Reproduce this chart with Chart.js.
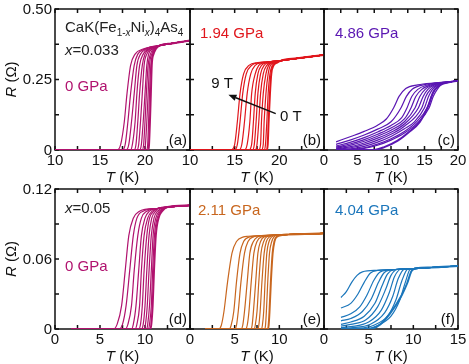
<!DOCTYPE html>
<html><head><meta charset="utf-8">
<script src="https://cdn.jsdelivr.net/npm/chart.js@4"></script>
<style>
html,body{margin:0;padding:0;background:#fff;width:469px;height:364px;overflow:hidden}
#wrap{position:relative;width:469px;height:364px;background:#fff}
canvas{position:absolute;left:0;top:0}
</style></head>
<body><div id="wrap"></div>
<script>
// ---------------- DATA ----------------
// Tick values and labels
const xTicksAB = [10, 12.5, 15, 17.5, 20, 22.5, 25];
const xLabelsAB = [10, 15, 20];
const xTicksC = [0, 2.5, 5, 7.5, 10, 12.5, 15, 17.5, 20];
const xLabelsC = [0, 5, 10, 15, 20];
const xTicksDEF = [0, 2.5, 5, 7.5, 10, 12.5, 15];
const xLabelsDE = [0, 5, 10];
const xLabelsF = [0, 5, 10, 15];
const yTicksTop = [0, 0.125, 0.25, 0.375, 0.5];
const yLabelsTop = [[0, '0'], [0.25, '0.25'], [0.5, '0.50']];
const yTicksBot = [0, 0.03, 0.06, 0.09, 0.12];
const yLabelsBot = [[0, '0'], [0.06, '0.06'], [0.12, '0.12']];

// Panel (a): x=0.033, 0 GPa. T (K) where each field curve crosses the R levels (9 T ... 0 T)
const startA = 10;
const rLevelsA = [0, 0.02, 0.1, 0.2, 0.3, 0.34, 0.358];
const tCurvesA = [
  [16.9, 17.3, 17.7, 18.0, 18.4, 18.9, 19.8],
  [17.5, 17.8, 18.1, 18.4, 18.8, 19.2, 20.0],
  [17.9, 18.2, 18.5, 18.8, 19.1, 19.5, 20.2],
  [18.4, 18.6, 18.9, 19.1, 19.4, 19.8, 20.4],
  [18.8, 19.0, 19.2, 19.4, 19.7, 20.0, 20.5],
  [19.1, 19.3, 19.5, 19.7, 19.9, 20.2, 20.6],
  [19.4, 19.6, 19.8, 20.0, 20.2, 20.4, 20.8],
  [19.7, 19.85, 20.0, 20.15, 20.35, 20.6, 20.9],
  [19.95, 20.05, 20.2, 20.35, 20.5, 20.75, 21.0],
  [20.2, 20.3, 20.4, 20.5, 20.65, 20.85, 21.1],
  [20.4, 20.45, 20.55, 20.65, 20.75, 20.95, 21.2]
];
const normalA = [[19.6, 0.36], [20.5, 0.364], [21.6, 0.37], [23, 0.378], [25, 0.388]];

// Panel (b): 1.94 GPa
const startB = 10;
const rLevelsB = [0, 0.02, 0.1, 0.2, 0.27, 0.3, 0.31];
const tCurvesB = [
  [14.6, 15.0, 15.3, 15.6, 16.0, 16.6, 17.6],
  [15.0, 15.3, 15.6, 15.9, 16.3, 16.9, 17.8],
  [15.5, 15.8, 16.1, 16.4, 16.8, 17.3, 18.1],
  [16.1, 16.4, 16.7, 16.9, 17.3, 17.7, 18.4],
  [16.6, 16.9, 17.1, 17.3, 17.6, 18.0, 18.7],
  [17.0, 17.2, 17.4, 17.6, 17.9, 18.3, 18.9],
  [17.3, 17.5, 17.7, 17.9, 18.2, 18.6, 19.1],
  [17.7, 17.9, 18.0, 18.2, 18.5, 18.8, 19.3],
  [18.0, 18.2, 18.3, 18.5, 18.75, 19.0, 19.5],
  [18.3, 18.45, 18.6, 18.75, 18.95, 19.2, 19.6],
  [18.6, 18.7, 18.8, 18.95, 19.1, 19.35, 19.75]
];
const normalB = [[18.5, 0.312], [19.3, 0.314], [20.2, 0.317], [22, 0.325], [25, 0.337]];
const arrowB = [[19.6, 0.129], [14.3, 0.196]];
const arrowTextB = [['9 T', 13.6, 0.236], ['0 T', 21.3, 0.116]];

// Panel (c): 4.86 GPa, [T, R] points per field curve
const curvesC = [
  [[1.8,0.029],[4,0.048],[6,0.066],[8,0.088],[9.3,0.11],[10.4,0.15],[11.2,0.19],[12.2,0.218],[14,0.231],[16.5,0.238]],
  [[1.8,0.02],[4,0.036],[6,0.053],[8,0.074],[10,0.1],[11.5,0.15],[12.3,0.19],[13.2,0.216],[15,0.232],[17,0.238]],
  [[1.8,0.014],[4,0.028],[6,0.044],[8,0.064],[10,0.087],[11.6,0.115],[12.4,0.15],[13.1,0.19],[14,0.215],[15.5,0.231],[17.2,0.238]],
  [[1.8,0.01],[4,0.022],[6,0.037],[8,0.056],[10,0.078],[12,0.11],[13.0,0.15],[13.7,0.19],[14.6,0.215],[16,0.231],[17.5,0.238]],
  [[1.8,0.007],[4,0.017],[6,0.031],[8,0.049],[10,0.07],[12,0.1],[13.6,0.15],[14.3,0.19],[15.1,0.215],[16.3,0.231],[17.7,0.238]],
  [[1.8,0.004],[4,0.012],[6,0.025],[8,0.042],[10,0.063],[12,0.092],[14.1,0.15],[14.8,0.19],[15.5,0.215],[16.5,0.231],[17.8,0.238]],
  [[1.8,0.002],[4,0.008],[6,0.019],[8,0.035],[10,0.056],[12,0.084],[14.6,0.15],[15.2,0.19],[15.9,0.215],[16.8,0.231],[18,0.239]],
  [[1.8,0.001],[4,0.004],[6,0.013],[8,0.028],[10,0.048],[12,0.075],[13.5,0.1],[15.0,0.15],[15.6,0.19],[16.2,0.215],[17,0.231],[18.2,0.239]],
  [[1.8,0],[4,0.002],[6,0.008],[8,0.021],[10,0.04],[12,0.066],[13.8,0.1],[15.4,0.15],[16.0,0.19],[16.6,0.215],[17.3,0.232],[18.4,0.24]],
  [[1.8,0],[4,0.001],[6,0.006],[8,0.017],[10,0.035],[12,0.06],[14,0.097],[15.7,0.15],[16.3,0.19],[16.9,0.215],[17.5,0.232],[18.5,0.24]],
  [[1.8,0],[7.4,0],[9,0.01],[11,0.033],[12.6,0.062],[14.3,0.1],[15.6,0.158],[16.3,0.205],[17.0,0.225],[17.7,0.235],[18.6,0.24]]
];
const normalC = [[19.2, 0.243], [20, 0.245]];

// Panel (d): x=0.05, 0 GPa
const startD = 1.8;
const rLevelsD = [0, 0.004, 0.02, 0.05, 0.08, 0.095, 0.101];
const tCurvesD = [
  [6.5, 6.9, 7.4, 7.8, 8.2, 8.7, 9.4],
  [7.1, 7.5, 7.9, 8.3, 8.7, 9.1, 9.8],
  [7.8, 8.1, 8.5, 8.8, 9.2, 9.6, 10.2],
  [8.5, 8.7, 9.0, 9.3, 9.6, 10.0, 10.5],
  [8.9, 9.1, 9.4, 9.6, 9.9, 10.3, 10.8],
  [9.3, 9.5, 9.7, 9.9, 10.2, 10.5, 11.0],
  [9.6, 9.8, 10.0, 10.2, 10.45, 10.75, 11.2],
  [9.9, 10.05, 10.25, 10.45, 10.7, 11.0, 11.4],
  [10.2, 10.3, 10.5, 10.7, 10.9, 11.2, 11.6],
  [10.4, 10.5, 10.7, 10.85, 11.05, 11.35, 11.75],
  [10.6, 10.7, 10.85, 11.0, 11.2, 11.5, 11.9]
];
const normalD = [[10, 0.1025], [11.5, 0.1035], [12.5, 0.1045], [15, 0.106]];

// Panel (e): 2.11 GPa
const startE = 1.7;
const rLevelsE = [0, 0.003, 0.015, 0.04, 0.065, 0.075, 0.079];
const tCurvesE = [
  [3.2, 3.5, 3.8, 4.2, 4.7, 5.2, 6.0],
  [4.4, 4.6, 4.9, 5.2, 5.6, 6.0, 6.7],
  [5.0, 5.2, 5.4, 5.7, 6.1, 6.5, 7.1],
  [5.7, 5.9, 6.1, 6.4, 6.7, 7.1, 7.6],
  [6.2, 6.4, 6.6, 6.85, 7.15, 7.5, 8.0],
  [6.8, 6.95, 7.1, 7.35, 7.6, 7.9, 8.3],
  [7.2, 7.3, 7.5, 7.7, 7.95, 8.25, 8.6],
  [7.6, 7.7, 7.85, 8.05, 8.3, 8.55, 8.9],
  [8.0, 8.1, 8.25, 8.4, 8.6, 8.85, 9.15],
  [8.35, 8.45, 8.55, 8.7, 8.9, 9.15, 9.4],
  [8.7, 8.8, 8.9, 9.05, 9.25, 9.45, 9.7]
];
const normalE = [[6.5, 0.0795], [8, 0.08], [9.8, 0.0805], [11, 0.081], [15, 0.082]];

// Panel (f): 4.04 GPa, [T, R] points per field curve
const curvesF = [
  [[1.9,0.027],[2.5,0.032],[3.1,0.04],[3.7,0.046],[4.3,0.049]],
  [[1.9,0.018],[3,0.022],[3.8,0.03],[4.5,0.04],[5.2,0.048],[6.0,0.0502]],
  [[1.9,0.010],[3,0.013],[4,0.019],[4.8,0.029],[5.6,0.042],[6.3,0.049]],
  [[1.9,0.007],[3,0.009],[4.3,0.015],[5.3,0.026],[6.1,0.04],[6.7,0.048],[7.4,0.0506]],
  [[1.9,0.004],[3,0.006],[4.5,0.011],[5.7,0.022],[6.5,0.037],[7.1,0.047],[7.8,0.0508]],
  [[1.9,0.0025],[3,0.004],[4.7,0.008],[6,0.019],[6.9,0.034],[7.5,0.046],[8.2,0.051]],
  [[1.9,0.0012],[3,0.002],[5,0.006],[6.4,0.016],[7.3,0.031],[7.9,0.045],[8.6,0.0512]],
  [[1.9,0.0006],[3,0.001],[5.2,0.004],[6.8,0.014],[7.7,0.028],[8.3,0.043],[9.0,0.0514]],
  [[1.9,0],[3.5,0.0005],[5.5,0.003],[7.2,0.012],[8.1,0.026],[8.7,0.041],[9.4,0.0515]],
  [[1.9,0],[4.5,0],[6,0.003],[7.5,0.011],[8.5,0.025],[9.1,0.04],[9.7,0.0517]],
  [[1.9,0],[5.0,0],[6.3,0.004],[7.4,0.0134],[8.7,0.029],[9.3,0.039],[9.8,0.0497],[10.3,0.0519]]
];
const normalF = [[4.5, 0.0498], [6, 0.0503], [8, 0.051], [10, 0.0518], [12, 0.0527], [15, 0.054]];

// ---------------- BUILD ----------------
const FONT = '"Liberation Sans", Arial, Helvetica, sans-serif';
const fnt = (s, it) => (it ? 'italic ' : '') + s + 'px ' + FONT;

function levelCurves(start, levels, tcurves, normal) {
  return tcurves.map(ts => {
    const pts = [{x: start, y: 0}];
    ts.forEach((t, i) => pts.push({x: t, y: levels[i]}));
    const last = ts[ts.length - 1];
    normal.forEach(p => { if (p[0] > last + 0.2) pts.push({x: p[0], y: p[1]}); });
    return pts;
  });
}
function pairCurves(curves, normal) {
  return curves.map(c => {
    const pts = c.map(p => ({x: p[0], y: p[1]}));
    const last = c[c.length - 1][0];
    normal.forEach(p => { if (p[0] > last + 0.2) pts.push({x: p[0], y: p[1]}); });
    return pts;
  });
}

const MAG = '#b0126e', RED = '#e0161c', PUR = '#5a16b2', ORA = '#c8661e', BLU = '#1b76bb';

const panels = [
  {name:'(a)', left:55, right:190, top:9, bottom:150, xMin:10, xMax:25, xTicks:xTicksAB, xLabels:xLabelsAB,
   yMin:0, yMax:0.5, yTicks:yTicksTop, yLabels:yLabelsTop, yTitle:true, color:MAG,
   curves: levelCurves(startA, rLevelsA, tCurvesA, normalA),
   texts: [
     {runs:[['CaK(Fe'],['1-',1],['x',1,1],['Ni'],['x',1,1],[')'],['4',1],['As'],['4',1]], x:10, y:23, color:'#222'},
     {runs:[['x',0,1],['=0.033']], x:10, y:46, color:'#222'},
     {runs:[['0 GPa']], x:10, y:82, color:MAG}
   ]},
  {name:'(b)', left:190, right:324, top:9, bottom:150, xMin:10, xMax:25, xTicks:xTicksAB, xLabels:xLabelsAB,
   yMin:0, yMax:0.5, yTicks:yTicksTop, color:RED,
   curves: levelCurves(startB, rLevelsB, tCurvesB, normalB),
   texts: [{runs:[['1.94 GPa']], x:10, y:29, color:RED}], arrow:true},
  {name:'(c)', left:324, right:458, top:9, bottom:150, xMin:0, xMax:20, xTicks:xTicksC, xLabels:xLabelsC,
   yMin:0, yMax:0.5, yTicks:yTicksTop, color:PUR,
   curves: pairCurves(curvesC, normalC),
   texts: [{runs:[['4.86 GPa']], x:11, y:29, color:PUR}]},
  {name:'(d)', left:55, right:190, top:189, bottom:329, xMin:0, xMax:15, xTicks:xTicksDEF, xLabels:xLabelsDE,
   yMin:0, yMax:0.12, yTicks:yTicksBot, yLabels:yLabelsBot, yTitle:true, color:MAG,
   curves: levelCurves(startD, rLevelsD, tCurvesD, normalD),
   texts: [
     {runs:[['x',0,1],['=0.05']], x:10, y:24, color:'#222'},
     {runs:[['0 GPa']], x:10, y:82, color:MAG}
   ]},
  {name:'(e)', left:190, right:324, top:189, bottom:329, xMin:0, xMax:15, xTicks:xTicksDEF, xLabels:xLabelsDE,
   yMin:0, yMax:0.12, yTicks:yTicksBot, color:ORA,
   curves: levelCurves(startE, rLevelsE, tCurvesE, normalE),
   texts: [{runs:[['2.11 GPa']], x:8, y:26, color:ORA}]},
  {name:'(f)', left:324, right:458, top:189, bottom:329, xMin:0, xMax:15, xTicks:xTicksDEF, xLabels:xLabelsF,
   yMin:0, yMax:0.12, yTicks:yTicksBot, color:BLU,
   curves: pairCurves(curvesF, normalF),
   texts: [{runs:[['4.04 GPa']], x:11, y:26, color:BLU}]}
];

function drawRuns(ctx, x, y, runs, color, size) {
  ctx.save();
  ctx.fillStyle = color; ctx.textAlign = 'left'; ctx.textBaseline = 'alphabetic';
  for (const r of runs) {
    const sub = !!r[1], it = !!r[2];
    const s = sub ? Math.round(size * 0.68) : size;
    ctx.font = fnt(s, it);
    ctx.fillText(r[0], x, y + (sub ? size * 0.28 : 0));
    x += ctx.measureText(r[0]).width;
  }
  ctx.restore();
}
function runsWidth(ctx, runs, size) {
  let w = 0;
  ctx.save();
  for (const r of runs) {
    const s = r[1] ? Math.round(size * 0.68) : size;
    ctx.font = fnt(s, !!r[2]);
    w += ctx.measureText(r[0]).width;
  }
  ctx.restore();
  return w;
}

function makePlugin(p) {
  return {
    id: 'frame',
    beforeDatasetsDraw(chart) {
      const ctx = chart.ctx, a = chart.chartArea, xs = chart.scales.x, ys = chart.scales.y;
      ctx.save();
      ctx.strokeStyle = '#111'; ctx.lineWidth = 1.5;
      ctx.strokeRect(a.left, a.top, a.right - a.left, a.bottom - a.top);
      const L = 4;
      ctx.beginPath();
      p.xTicks.forEach(v => {
        const px = xs.getPixelForValue(v);
        ctx.moveTo(px, a.bottom); ctx.lineTo(px, a.bottom - L);
        ctx.moveTo(px, a.top); ctx.lineTo(px, a.top + L);
      });
      p.yTicks.forEach(v => {
        const py = ys.getPixelForValue(v);
        ctx.moveTo(a.left, py); ctx.lineTo(a.left + L, py);
        ctx.moveTo(a.right, py); ctx.lineTo(a.right - L, py);
      });
      ctx.stroke();
      ctx.restore();
    },
    afterDraw(chart) {
      const ctx = chart.ctx, a = chart.chartArea, xs = chart.scales.x, ys = chart.scales.y;
      ctx.save();
      ctx.fillStyle = '#111';
      ctx.font = fnt(15);
      ctx.textAlign = 'center'; ctx.textBaseline = 'middle';
      p.xLabels.forEach(v => ctx.fillText(String(v), xs.getPixelForValue(v), a.bottom + 11));
      if (p.yLabels) {
        ctx.textAlign = 'right';
        p.yLabels.forEach(l => ctx.fillText(l[1], a.left - 3, ys.getPixelForValue(l[0]) + 0.5));
      }
      // x title
      const tRuns = [['T', 0, 1], [' (K)']];
      const tw = runsWidth(ctx, tRuns, 15);
      drawRuns(ctx, (a.left + a.right) / 2 - tw / 2, a.bottom + 32, tRuns, '#111', 15);
      if (p.yTitle) {
        const rRuns = [['R', 0, 1], [' (\u03A9)']];
        const rw = runsWidth(ctx, rRuns, 15);
        ctx.save();
        ctx.translate(16, (a.top + a.bottom) / 2);
        ctx.rotate(-Math.PI / 2);
        drawRuns(ctx, -rw / 2, 0, rRuns, '#111', 15);
        ctx.restore();
      }
      // panel label
      ctx.font = fnt(15); ctx.textAlign = 'right'; ctx.textBaseline = 'alphabetic'; ctx.fillStyle = '#111';
      ctx.fillText(p.name, a.right - 3, a.bottom - 5);
      // texts
      p.texts.forEach(t => drawRuns(ctx, a.left + t.x, a.top + t.y, t.runs, t.color, 15));
      if (p.arrow) {
        const x1 = xs.getPixelForValue(arrowB[0][0]), y1 = ys.getPixelForValue(arrowB[0][1]);
        const x2 = xs.getPixelForValue(arrowB[1][0]), y2 = ys.getPixelForValue(arrowB[1][1]);
        const ang = Math.atan2(y2 - y1, x2 - x1), H = 8, W = 3.2;
        const bx = x2 - H * Math.cos(ang), by = y2 - H * Math.sin(ang);
        ctx.strokeStyle = '#111'; ctx.lineWidth = 1.5;
        ctx.beginPath(); ctx.moveTo(x1, y1); ctx.lineTo(bx, by); ctx.stroke();
        ctx.fillStyle = '#111';
        ctx.beginPath();
        ctx.moveTo(x2, y2);
        ctx.lineTo(bx + W * Math.sin(ang), by - W * Math.cos(ang));
        ctx.lineTo(bx - W * Math.sin(ang), by + W * Math.cos(ang));
        ctx.closePath(); ctx.fill();
        ctx.font = fnt(15); ctx.textAlign = 'center'; ctx.textBaseline = 'middle';
        arrowTextB.forEach(t => ctx.fillText(t[0], xs.getPixelForValue(t[1]), ys.getPixelForValue(t[2])));
      }
      ctx.restore();
    }
  };
}

const wrap = document.getElementById('wrap');
panels.forEach(p => {
  const c = document.createElement('canvas');
  c.width = 469; c.height = 364;
  c.style.width = '469px'; c.style.height = '364px';
  wrap.appendChild(c);
  const n = p.curves.length;
  new Chart(c, {
    type: 'line',
    data: {datasets: p.curves.map((pts, i) => ({
      data: pts, borderColor: p.color, backgroundColor: p.color,
      borderWidth: i === n - 1 ? 2 : 1.2, pointRadius: 0, pointHoverRadius: 0,
      fill: false, cubicInterpolationMode: 'monotone'
    }))},
    options: {
      responsive: false, animation: false, devicePixelRatio: 1, events: [],
      layout: {padding: {left: p.left, top: p.top, right: 469 - p.right, bottom: 364 - p.bottom}},
      plugins: {legend: {display: false}, tooltip: {enabled: false}},
      scales: {
        x: {type: 'linear', display: false, min: p.xMin, max: p.xMax},
        y: {type: 'linear', display: false, min: p.yMin, max: p.yMax}
      }
    },
    plugins: [makePlugin(p)]
  });
});
</script>
</body></html>
